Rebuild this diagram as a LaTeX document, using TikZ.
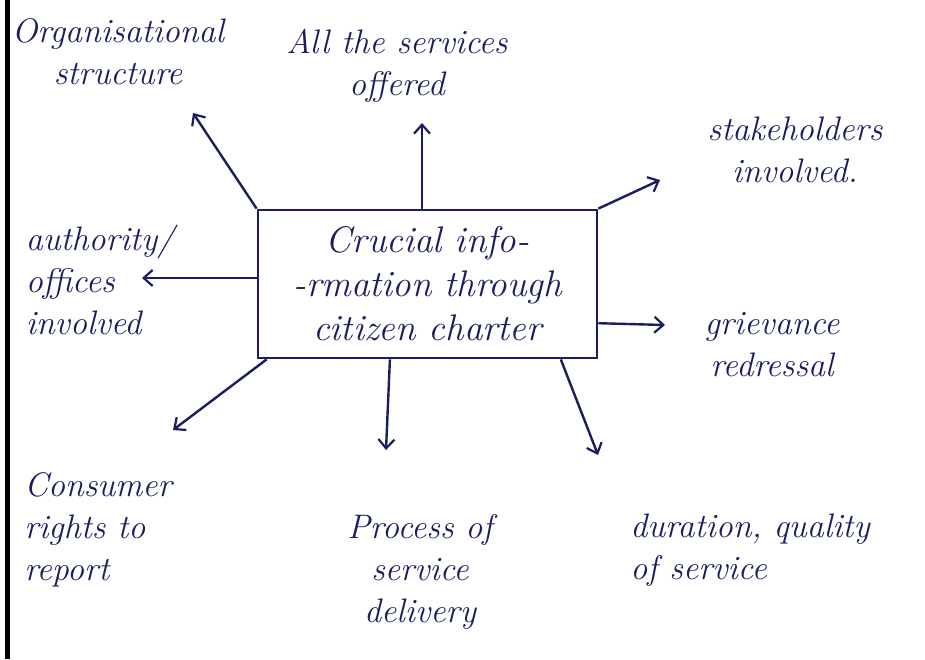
\documentclass[tikz,border=0pt]{standalone}
\usepackage{fontspec}
\usetikzlibrary{arrows.meta,calc}
\definecolor{ink}{RGB}{25,30,95}
\begin{document}
\begin{tikzpicture}[x=1pt,y=-1pt,
  lbl/.style={text=ink,font=\fontsize{34}{42}\selectfont\itshape,align=center,inner sep=0pt},
  conn/.style={draw=ink,line width=2.4pt,-{Straight Barb[length=9pt,width=16pt,line width=2.2pt]}},
  mainbox/.style={draw=ink,line width=2.8pt,minimum width=339pt,minimum height=148pt,inner sep=0pt,
    text=ink,font=\fontsize{37}{44}\selectfont\itshape,align=center}]
\fill[white] (0,0) rectangle (925,659);
\useasboundingbox (0,0) rectangle (925,659);
\draw[line width=5pt,black] (7,0) -- (7,659);

\node[mainbox] (box) at (427.5,284) {Crucial info-\\-rmation through\\citizen charter};

\node[lbl] (org) at (118,52) {Organisational\\structure};
\node[lbl] (serv) at (397,66) {All the services\\offered};
\node[lbl] (stake) at (795,150) {stakeholders\\involved.};
\node[lbl,align=left] (auth) at (100,280) {authority/\\offices\\involved};
\node[lbl] (griev) at (772,345) {grievance\\redressal};
\node[lbl,align=left] (cons) at (98,530) {Consumer\\rights to\\report};
\node[lbl] (proc) at (420,572) {Process of\\service\\delivery};
\node[lbl,align=left] (dur) at (750,550) {duration, quality\\of service};

\coordinate (hOrg) at (193,113);
\coordinate (hServ) at (422,123);
\coordinate (hStake) at (660,180);
\coordinate (hAuth) at (142,278);
\coordinate (hGriev) at (665,325);
\coordinate (hCons) at (173,430);
\coordinate (hProc) at (386,450);
\coordinate (hDur) at (598,455);

\coordinate (tGriev) at ($(box.north east)!0.76!(box.south east)$);
\coordinate (tCons) at ($(box.south west)+(10,0)$);
\coordinate (tProc) at ($(box.south west)!0.39!(box.south east)$);
\coordinate (tDur) at ($(box.south west)!0.89!(box.south east)$);

\draw[conn] (box.north west) -- (hOrg);
\draw[conn] (box.north -| hServ) -- (hServ);
\draw[conn] (box.north east) -- (hStake);
\draw[conn] (box.west |- hAuth) -- (hAuth);
\draw[conn] (tGriev) -- (hGriev);
\draw[conn] (tCons) -- (hCons);
\draw[conn] (tProc) -- (hProc);
\draw[conn] (tDur) -- (hDur);
\end{tikzpicture}
\end{document}
